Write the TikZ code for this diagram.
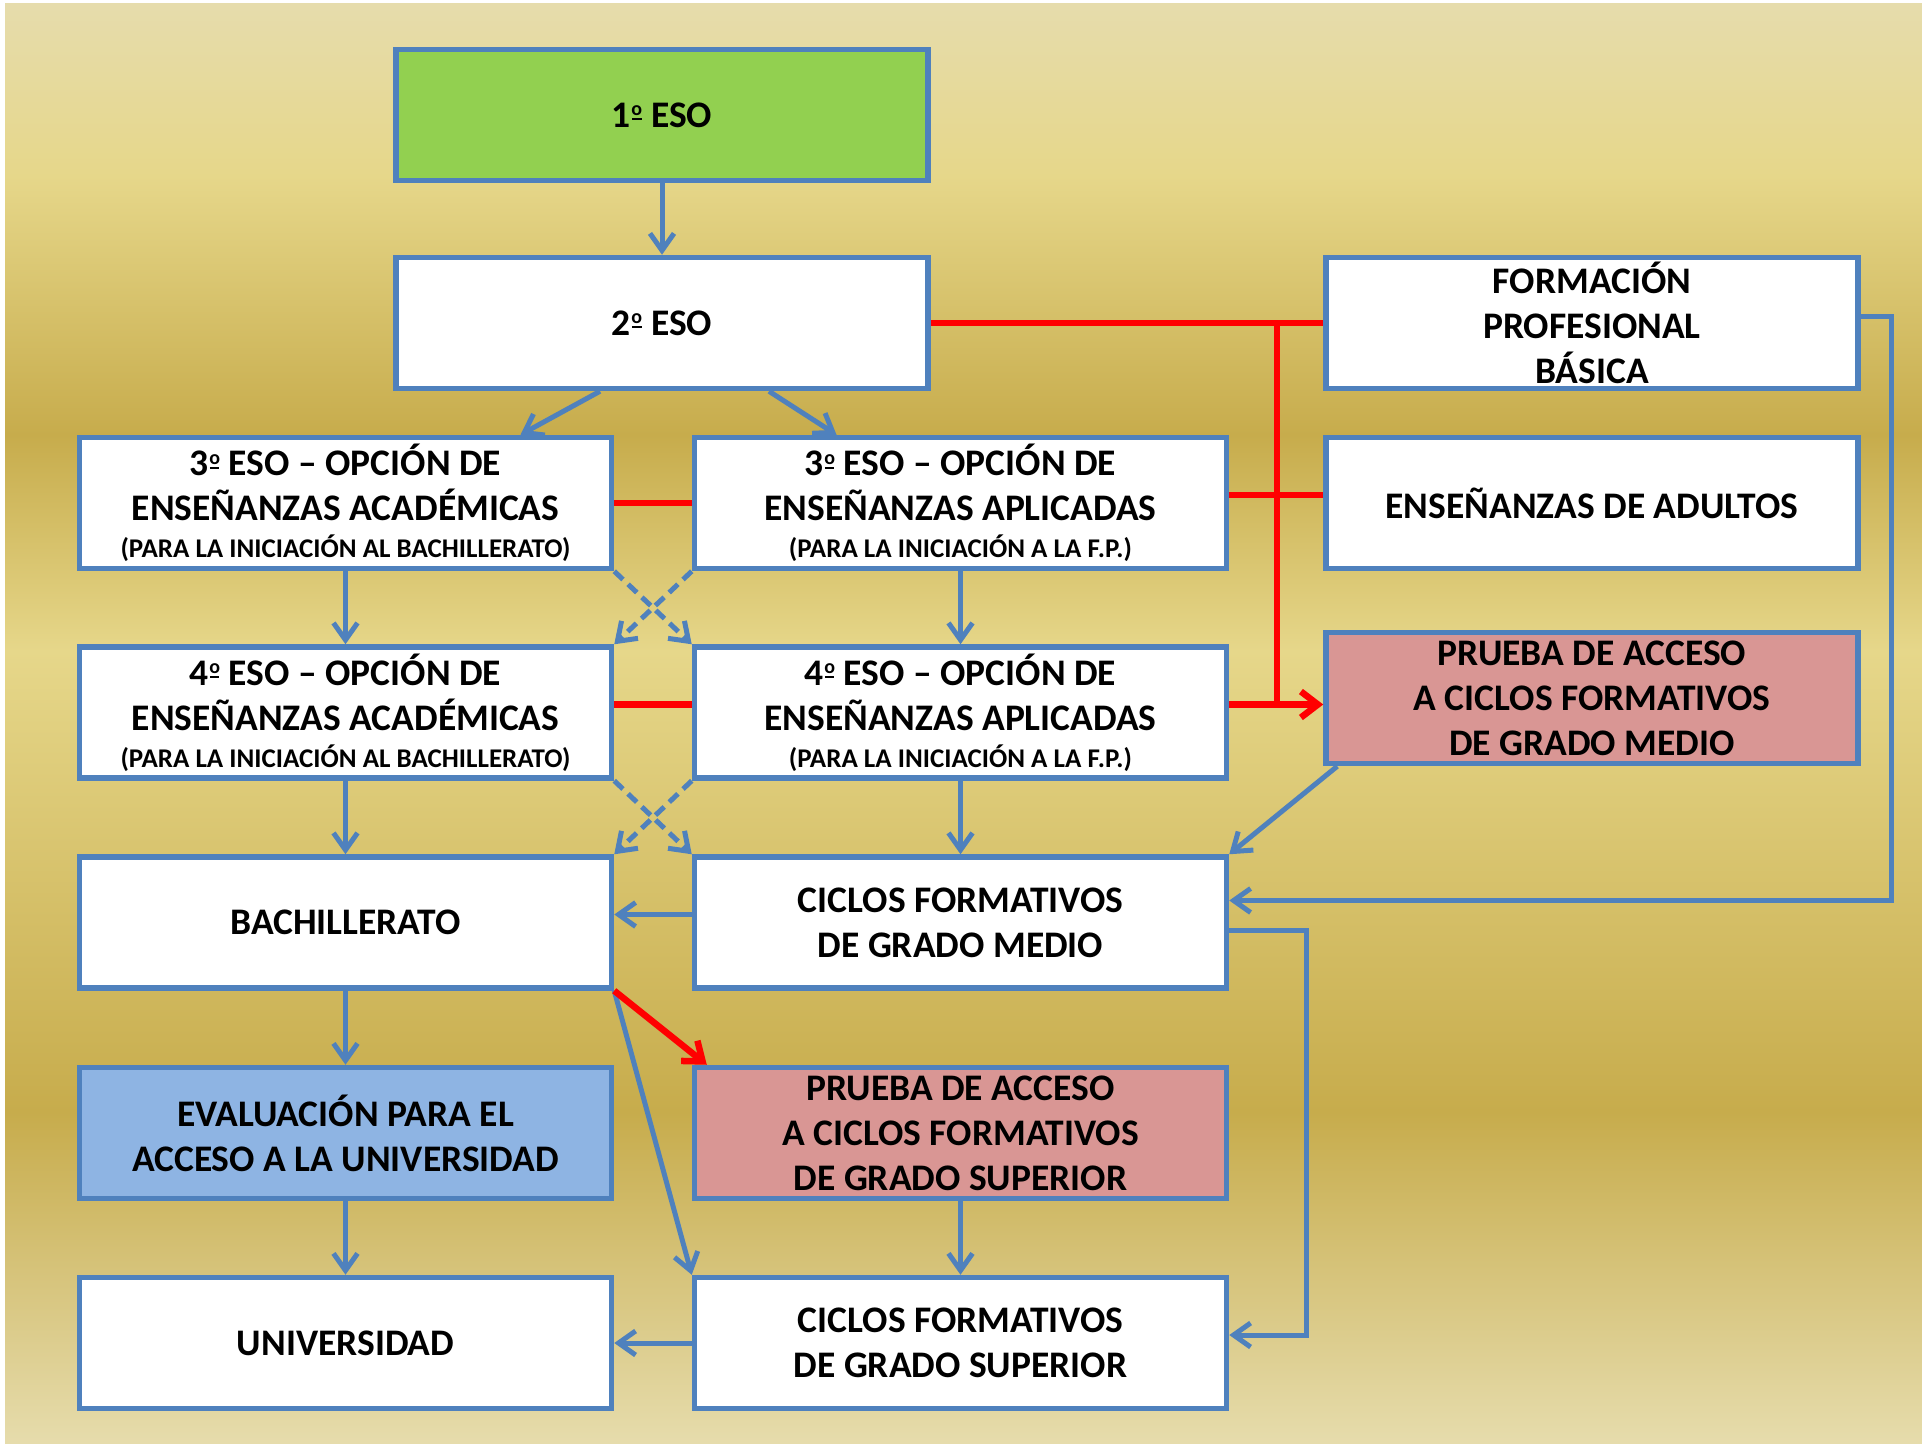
\documentclass[tikz,border=0pt]{standalone}
\usepackage{fontspec}
\setmainfont{Carlito}
\usetikzlibrary{arrows.meta}

\definecolor{boxblue}{HTML}{4F81BD}
\definecolor{esogreen}{HTML}{92D050}
\definecolor{pruebapink}{HTML}{D99694}
\definecolor{evaublue}{HTML}{8EB4E3}
\definecolor{goldlight}{HTML}{E6DCAC}
\definecolor{goldmid}{HTML}{E6D78A}
\definecolor{golddark}{HTML}{C7AC4C}

\pgfdeclareverticalshading{goldbg}{100bp}{color(0bp)=(goldlight); color(25bp)=(goldlight);
  color(36.5bp)=(golddark); color(52.5bp)=(goldmid); color(60bp)=(golddark);
  color(69bp)=(goldmid); color(75bp)=(goldlight); color(100bp)=(goldlight)}

% ordinal sign drawn as raised o with a bar under it
\newcommand{\ordo}{\kern0.5pt\ooalign{\raisebox{11.5pt}{\fontsize{20}{20}\selectfont o}\cr
  \hfil\raisebox{6.8pt}{\rule{9.5pt}{2.2pt}}\hfil\cr}\kern0.5pt}
\newcommand{\smallline}[1]{{\fontsize{27}{34}\selectfont #1}}

\begin{document}
\begin{tikzpicture}[x=1pt, y=-1pt]

\useasboundingbox (0,0) rectangle (1922,1446);
\shade[shading=goldbg] (5,3) rectangle (1922,1443);

\begin{scope}[every node/.style={rectangle,draw=boxblue,line width=5.5pt,fill=white,
              minimum width=532pt,minimum height=131pt,inner sep=0pt,align=center,
              font=\fontsize{37.5}{45}\selectfont\bfseries}]
    \node (e1) at (662, 115) [fill=esogreen] {1\ordo{} ESO};
    \node (e2) at (662, 323) {2\ordo{} ESO};
    \node (fpb) at (1592, 323) {FORMACIÓN\\PROFESIONAL\\BÁSICA};

    \node (a3) at (345.5, 503) {3\ordo{} ESO – OPCIÓN DE\\ENSEÑANZAS ACADÉMICAS\\[-8pt]\smallline{(PARA LA INICIACIÓN AL BACHILLERATO)}};
    \node (p3) at (960.5, 503) {3\ordo{} ESO – OPCIÓN DE\\ENSEÑANZAS APLICADAS\\[-8pt]\smallline{(PARA LA INICIACIÓN A LA F.P.)}};
    \node (adul) at (1592, 503) {ENSEÑANZAS DE ADULTOS};

    \node (a4) at (345.5, 712.5) {4\ordo{} ESO – OPCIÓN DE\\ENSEÑANZAS ACADÉMICAS\\[-8pt]\smallline{(PARA LA INICIACIÓN AL BACHILLERATO)}};
    \node (p4) at (960.5, 712.5) {4\ordo{} ESO – OPCIÓN DE\\ENSEÑANZAS APLICADAS\\[-8pt]\smallline{(PARA LA INICIACIÓN A LA F.P.)}};
    \node (pgm) at (1592, 698) [fill=pruebapink] {PRUEBA DE ACCESO\\A CICLOS FORMATIVOS\\DE GRADO MEDIO};

    \node (bach) at (345.5, 922.5) {BACHILLERATO};
    \node (cfgm) at (960.5, 922.5) {CICLOS FORMATIVOS\\DE GRADO MEDIO};

    \node (evau) at (345.5, 1133) [fill=evaublue] {EVALUACIÓN PARA EL\\ACCESO A LA UNIVERSIDAD};
    \node (pgs) at (960.5, 1133) [fill=pruebapink] {PRUEBA DE ACCESO\\A CICLOS FORMATIVOS\\DE GRADO SUPERIOR};

    \node (uni) at (345.5, 1343) {UNIVERSIDAD};
    \node (cfgs) at (960.5, 1343) {CICLOS FORMATIVOS\\DE GRADO SUPERIOR};
\end{scope}

\begin{scope}[>={Straight Barb[length=17pt,width=24pt]},
              crossdash/.style={dash pattern=on 12pt off 7pt},
              every edge/.style={draw=boxblue,line width=5pt}]

    \path [->] (e1) edge (e2);
    \path [->] ([xshift=-62pt]e2.south) edge ([xshift=175pt]a3.north);
    \path [->] ([xshift=107pt]e2.south) edge ([xshift=-124pt]p3.north);

    \path [->] (a3) edge (a4);
    \path [->] (p3) edge (p4);
    \path [->] (a3.south east) edge[crossdash] (p4.north west);
    \path [->] (p3.south west) edge[crossdash] (a4.north east);

    \path [->] (a4) edge (bach);
    \path [->] (p4) edge (cfgm);
    \path [->] (a4.south east) edge[crossdash] (cfgm.north west);
    \path [->] (p4.south west) edge[crossdash] (bach.north east);

    \path [->] ([xshift=14pt]pgm.south west) edge (cfgm.north east);
    \path [->] ([yshift=8pt]cfgm.west) edge ([yshift=8pt]bach.east);

    \path [->] (bach) edge (evau);
    \path [->] (evau) edge (uni);
    \path [->] (bach.south east) edge (cfgs.north west);
    \path [->] (pgs) edge (cfgs);
    \path [->] (cfgs) edge (uni);

    \draw [->,draw=boxblue,line width=5pt] ([yshift=7pt]fpb.east) -- ++(31,0) |- ([yshift=22pt]cfgm.east);
    \draw [->,draw=boxblue,line width=5pt] ([yshift=-8pt]cfgm.east) -- ++(77,0) |- ([yshift=8pt]cfgs.east);
\end{scope}

\begin{scope}[>={Straight Barb[length=17pt,width=26pt]},
              every edge/.style={draw=red,line width=6.5pt}]

    \coordinate (rtop) at (1277, 323);
    \coordinate (rbot) at ([yshift=8pt]p4.east);

    \path [-] (e2) edge (fpb);
    \path [-] (a3) edge (p3);
    \path [-] ([yshift=8pt]a4.east) edge ([yshift=8pt]p4.west);
    \path [-] ([yshift=8pt]p3.east) edge ([yshift=8pt]adul.west);
    \path [-] (rtop) edge (rtop |- rbot);
    \path [->] (rbot) edge (rbot -| pgm.west);
    \path [->] (bach.south east) edge ([xshift=15pt]pgs.north west);
\end{scope}
\end{tikzpicture}
\end{document}
